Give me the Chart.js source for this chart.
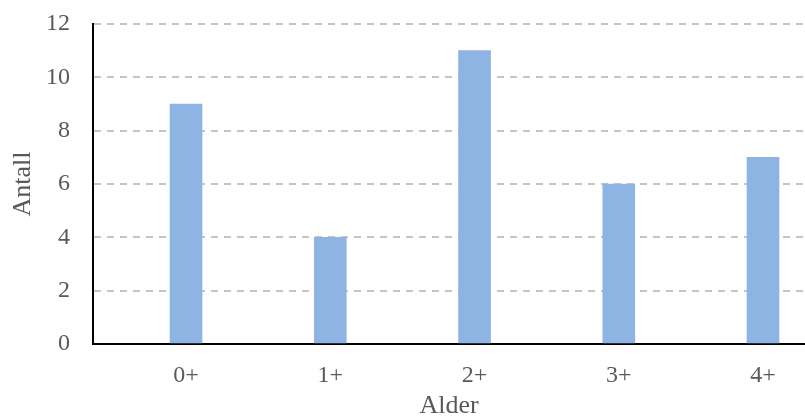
<!DOCTYPE html>
<html>
<head>
<meta charset="utf-8">
<script src="https://cdn.jsdelivr.net/npm/chart.js@4/dist/chart.umd.min.js"></script>
<style>
  html, body { margin: 0; padding: 0; background: #ffffff; }
  #wrap { width: 805px; height: 419px; }
</style>
</head>
<body>
<div id="wrap"><canvas id="c" width="805" height="419"></canvas></div>
<script>
// Age groups and counts
const categories = ['0+', '1+', '2+', '3+', '4+'];
const counts = [9, 4, 11, 6, 7];
const yTicks = [0, 2, 4, 6, 8, 10, 12];

const FONT = 'Liberation Serif';
const TEXT = '#595959';

// Each age group sits at its index on a numeric x axis
const points = categories.map((c, i) => ({ x: i, y: counts[i] }));

new Chart(document.getElementById('c'), {
  type: 'bar',
  data: {
    datasets: [{
      data: points,
      backgroundColor: '#8EB4E3',
      borderWidth: 0,
      barThickness: 32
    }]
  },
  options: {
    responsive: false,
    animation: false,
    devicePixelRatio: 1,
    layout: { padding: { top: 24, right: 0, bottom: 0, left: 0 } },
    plugins: { legend: { display: false }, tooltip: { enabled: false } },
    scales: {
      x: {
        type: 'linear',
        offset: false,
        min: -0.645,
        max: 4.291,
        afterBuildTicks: (s) => { s.ticks = categories.map((c, i) => ({ value: i })); },
        grid: { display: false, drawTicks: false, offset: false },
        border: { display: true, color: '#000000', width: 2 },
        ticks: {
          color: TEXT, font: { family: FONT, size: 24 }, padding: 17,
          callback: (v) => categories[v]
        },
        title: {
          display: true, text: 'Alder', color: TEXT,
          font: { family: FONT, size: 26, lineHeight: 1 },
          padding: { top: 0, bottom: 0 }
        },
        afterFit: (s) => { s.height = 75; s.paddingLeft = 0; s.paddingRight = 0; }
      },
      y: {
        min: 0, max: 12,
        afterBuildTicks: (s) => { s.ticks = yTicks.map(v => ({ value: v })); },
        grid: { color: '#C4C4C4', lineWidth: 2, drawTicks: false },
        border: { display: true, color: '#000000', width: 2, dash: [7, 6] },
        ticks: { color: TEXT, font: { family: FONT, size: 24 }, padding: 23 },
        title: {
          display: true, text: 'Antall', color: TEXT,
          font: { family: FONT, size: 26, lineHeight: 1 },
          padding: { top: 10, bottom: 0 }
        },
        afterFit: (s) => { s.width = 93; s.paddingTop = 0; s.paddingBottom = 0; }
      }
    }
  }
});
</script>
</body>
</html>
